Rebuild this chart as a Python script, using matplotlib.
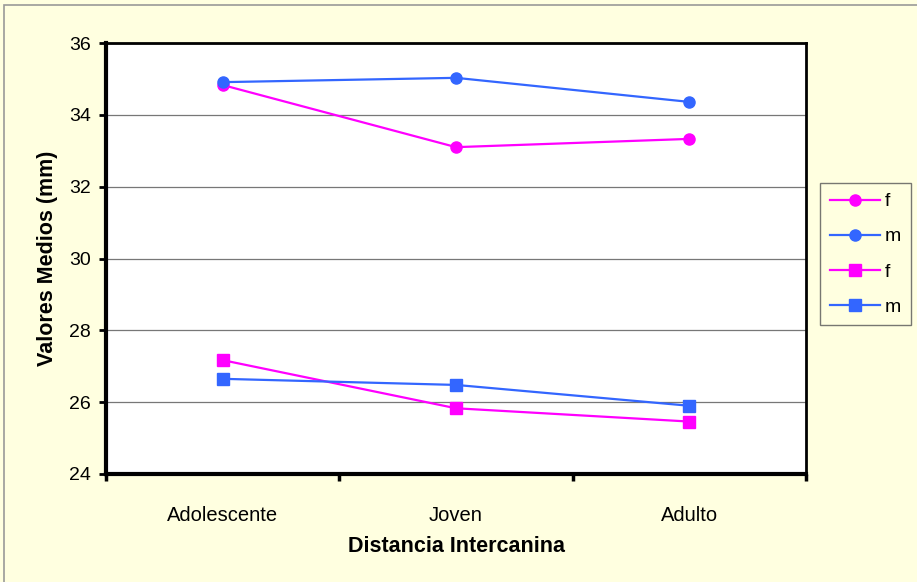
import matplotlib
matplotlib.use("Agg")
import matplotlib.pyplot as plt
from matplotlib.patches import Rectangle

categories = ["Adolescente", "Joven", "Adulto"]
f_circle = [34.83, 33.10, 33.33]
m_circle = [34.91, 35.03, 34.36]
f_square = [27.17, 25.83, 25.46]
m_square = [26.65, 26.48, 25.90]
yticks = [24, 26, 28, 30, 32, 34, 36]

plt.rcParams['font.family'] = ['Liberation Sans', 'DejaVu Sans']

bg = "#FFFFE0"
mag = "#FF00FF"
blue = "#3366FF"

fig = plt.figure(figsize=(9.17, 5.82), dpi=100)
fig.patch.set_facecolor(bg)
fig.patches.append(Rectangle((4/917, -0.01), 1.02, 1 - 5/582 + 0.01, transform=fig.transFigure,
                             fill=False, edgecolor="#999999", linewidth=1.2))

ax = fig.add_axes([106/917, 1 - 474/582, 700/917, 431/582])
ax.set_facecolor("white")
x = list(range(len(categories)))
ax.plot(x, f_circle, color=mag, marker="o", markersize=8, linewidth=1.6, label="f")
ax.plot(x, m_circle, color=blue, marker="o", markersize=8, linewidth=1.6, label="m")
ax.plot(x, f_square, color=mag, marker="s", markersize=8, linewidth=1.6, label="f")
ax.plot(x, m_square, color=blue, marker="s", markersize=8, linewidth=1.6, label="m")

ax.set_xlim(-0.5, 2.5)
ax.set_ylim(24, 36)
ax.set_yticks(yticks)
ax.set_yticklabels([str(v) for v in yticks], fontsize=14)
ax.set_xticks(x)
ax.set_xticklabels(categories, fontsize=14.5)
ax.tick_params(axis="x", which="major", length=0, pad=23)
ax.set_xticks([-0.5, 0.5, 1.5, 2.5], minor=True)
ax.tick_params(axis="x", which="minor", length=5, width=2.5, direction="out", color="black")
ax.tick_params(axis="y", length=5, width=2, direction="out", pad=6)
ax.yaxis.grid(True, color="#777777", linewidth=0.9)
ax.set_axisbelow(True)
for s in ["left", "bottom"]:
    ax.spines[s].set_linewidth(3)
for s in ["top", "right"]:
    ax.spines[s].set_linewidth(2)

ax.set_xlabel("Distancia Intercanina", fontsize=15.5, fontweight="bold", labelpad=8)
ax.set_ylabel("Valores Medios (mm)", fontsize=15.5, fontweight="bold", labelpad=8)

leg = fig.legend(loc="upper left", bbox_to_anchor=(820/917, 1 - 183/582), fontsize=14,
                 frameon=True, fancybox=False, handlelength=2.6, labelspacing=0.9,
                 borderpad=0.5, handletextpad=0.25, borderaxespad=0)
leg.get_frame().set_edgecolor("#555555")
leg.get_frame().set_facecolor(bg)
leg.get_frame().set_linewidth(1)

fig.savefig("out.png", dpi=100, facecolor=bg)
